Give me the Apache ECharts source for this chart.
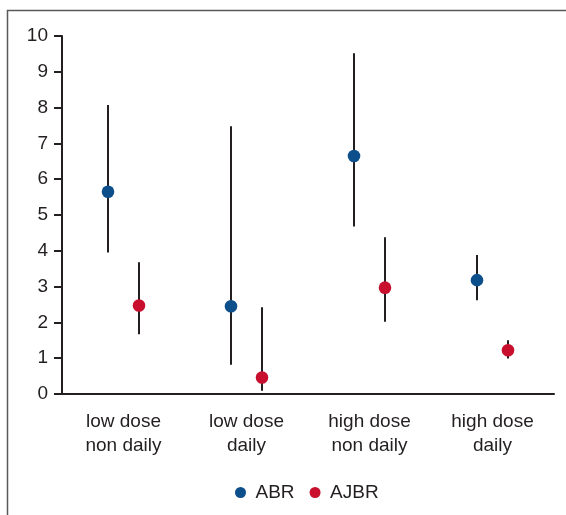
<!DOCTYPE html>
<html>
<head>
<meta charset="utf-8">
<script src="https://cdn.jsdelivr.net/npm/echarts@6/dist/echarts.min.js"></script>
<style>html,body{margin:0;padding:0;background:#fff;}#c{width:566px;height:515px;}</style>
</head>
<body>
<div id="c"></div>
<script>
const categories = ['low dose\nnon daily', 'low dose\ndaily', 'high dose\nnon daily', 'high dose\ndaily'];
const yTicks = [0, 10, 1];
const abrValue = [5.65, 2.45, 6.65, 3.18];
const abrLow   = [3.95, 0.82, 4.68, 2.62];
const abrHigh  = [8.07, 7.48, 9.52, 3.88];
const ajbrValue = [2.47, 0.46, 2.97, 1.22];
const ajbrLow   = [1.67, 0.09, 2.02, 0.99];
const ajbrHigh  = [3.68, 2.42, 4.38, 1.50];

const TEXT = '#231f20';
const FONT = '"Liberation Sans", Arial, sans-serif';

function build(values, lows, highs) {
  return values.map((v, i) => [i, v, lows[i], highs[i]]);
}
function makeRender(offset, color) {
  return function (params, api) {
    const idx = api.value(0);
    const x = api.coord([idx, 0])[0] + offset;
    const yv = api.coord([idx, api.value(1)])[1];
    const yl = api.coord([idx, api.value(2)])[1];
    const yh = api.coord([idx, api.value(3)])[1];
    return {
      type: 'group',
      children: [
        { type: 'line', shape: { x1: x, y1: yl, x2: x, y2: yh }, style: { stroke: TEXT, lineWidth: 2 } },
        { type: 'circle', shape: { cx: x, cy: yv, r: 6.3 }, style: { fill: color } }
      ]
    };
  };
}

const chart = echarts.init(document.getElementById('c'), null, { renderer: 'canvas' });
chart.setOption({
  animation: false,
  textStyle: { fontFamily: FONT },
  graphic: [{
    type: 'rect', silent: true,
    shape: { x: 7.5, y: 10.5, width: 800, height: 800 },
    style: { fill: 'none', stroke: '#5a5a5a', lineWidth: 1.5 }
  }],
  grid: { left: 62, right: 12, top: 36, bottom: 121, containLabel: false },
  legend: {
    left: 230, top: 478,
    itemWidth: 20, itemHeight: 11, itemGap: 15,
    icon: 'circle',
    textStyle: { fontSize: 19, color: TEXT, fontFamily: FONT },
    data: ['ABR', 'AJBR']
  },
  xAxis: {
    type: 'category',
    data: categories,
    axisLine: { lineStyle: { color: TEXT, width: 2 } },
    axisTick: { alignWithLabel: true, length: 6, lineStyle: { color: TEXT, width: 2 } },
    axisLabel: { fontSize: 19, color: TEXT, lineHeight: 24, margin: 16, fontFamily: FONT, interval: 0 },
    splitLine: { show: false }
  },
  yAxis: {
    type: 'value',
    min: yTicks[0], max: yTicks[1], interval: yTicks[2],
    axisLine: { show: true, lineStyle: { color: TEXT, width: 2 } },
    axisTick: { show: true, length: 8, lineStyle: { color: TEXT, width: 2 } },
    axisLabel: { fontSize: 19, color: TEXT, margin: 14, fontFamily: FONT },
    splitLine: { show: false }
  },
  series: [
    {
      name: 'ABR', type: 'custom',
      itemStyle: { color: '#0d4f8b' },
      encode: { x: 0, y: [1, 2, 3] },
      renderItem: makeRender(-15.5, '#0d4f8b'),
      data: build(abrValue, abrLow, abrHigh)
    },
    {
      name: 'AJBR', type: 'custom',
      itemStyle: { color: '#c8102e' },
      encode: { x: 0, y: [1, 2, 3] },
      renderItem: makeRender(15.5, '#c8102e'),
      data: build(ajbrValue, ajbrLow, ajbrHigh)
    }
  ]
});
</script>
</body>
</html>
